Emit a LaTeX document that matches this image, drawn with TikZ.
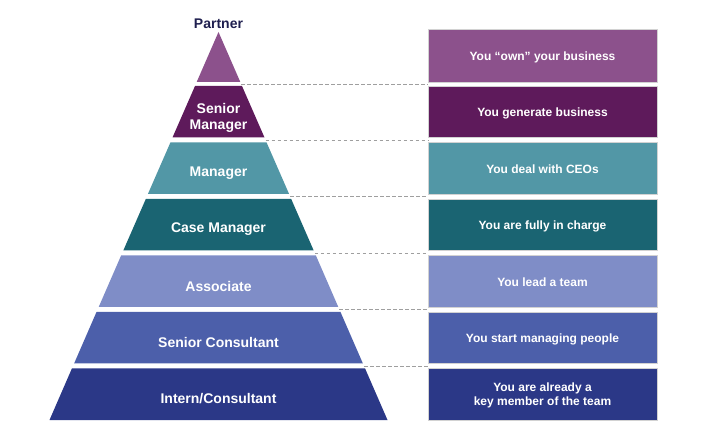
\documentclass[tikz,border=0pt]{standalone}
\usepackage{fontspec}
\setmainfont{Liberation Sans}
\usetikzlibrary{calc}

\definecolor{partnerc}{HTML}{8C518C}
\definecolor{senmgrc}{HTML}{5E1A5B}
\definecolor{mgrc}{HTML}{5297A6}
\definecolor{casemgrc}{HTML}{1A6472}
\definecolor{assocc}{HTML}{7F8DC7}
\definecolor{senconc}{HTML}{4C5FAA}
\definecolor{internc}{HTML}{2B3887}
\definecolor{titlec}{HTML}{1F1F4F}

\tikzset{
  lvl/.style={text=white, font=\bfseries\fontsize{14}{16}\selectfont, align=center, inner sep=0pt},
  rolebox/.style={draw=gray!35, line width=0.8pt, minimum width=229pt, minimum height=51.5pt,
    text=white, font=\bfseries\fontsize{12}{14}\selectfont, align=center, inner sep=0pt},
  oneline/.style={text height=13pt, text depth=2.5pt},
  link/.style={draw=gray!75, line width=0.9pt, dash pattern=on 3.5pt off 2.5pt}
}

\begin{document}
\begin{tikzpicture}[x=1pt,y=-1pt]
  \useasboundingbox (0,0) rectangle (720,435);

  % pyramid levels
  \fill[partnerc] (218.5,32) -- (240.3,82) -- (196.7,82) -- cycle;
  \fill[senmgrc] (195,86) -- (242,86) -- (264.5,137.5) -- (172.5,137.5) -- cycle;
  \fill[mgrc] (170.4,142.5) -- (266.6,142.5) -- (289.1,194) -- (147.9,194) -- cycle;
  \fill[casemgrc] (145.8,199) -- (291.2,199) -- (313.7,250.5) -- (123.3,250.5) -- cycle;
  \fill[assocc] (121.1,255.5) -- (315.9,255.5) -- (338.3,307) -- (98.7,307) -- cycle;
  \fill[senconc] (96.5,312) -- (340.5,312) -- (362.9,363.5) -- (74.1,363.5) -- cycle;
  \fill[internc] (71.9,368.5) -- (365.1,368.5) -- (387.5,420) -- (49.5,420) -- cycle;

  % level names
  \node[font=\bfseries\fontsize{14}{16}\selectfont, text=titlec] (partner) at (218.5,24) {Partner};
  \node[lvl] (senmgr) at (218.5,117.5) {Senior\\Manager};
  \node[lvl] (mgr) at (218.5,173) {Manager};
  \node[lvl] (casemgr) at (218.5,229.5) {Case Manager};
  \node[lvl] (assoc) at (218.5,286) {Associate};
  \node[lvl] (sencon) at (218.5,342.5) {Senior Consultant};
  \node[lvl] (intern) at (218.5,399) {Intern/Consultant};

  % what each level means
  \node[rolebox, oneline, fill=partnerc, minimum height=53pt] (b1) at (542.5,55.5) {You ``own'' your business};
  \node[rolebox, oneline, fill=senmgrc] (b2) at (542.5,111.75) {You generate business};
  \node[rolebox, oneline, fill=mgrc] (b3) at (542.5,168.25) {You deal with CEOs};
  \node[rolebox, oneline, fill=casemgrc] (b4) at (542.5,224.75) {You are fully in charge};
  \node[rolebox, oneline, fill=assocc] (b5) at (542.5,281.25) {You lead a team};
  \node[rolebox, oneline, fill=senconc] (b6) at (542.5,337.75) {You start managing people};
  \node[rolebox, fill=internc] (b7) at (542.5,394.25)
    {\begin{tabular}{@{}c@{}}\rule{0pt}{12.8pt}You are already a\\key member of the team\end{tabular}};

  % dashed guides
  \coordinate (g1) at (241.2,84);
  \coordinate (g2) at (265.5,140);
  \coordinate (g3) at (290.2,196.5);
  \coordinate (g4) at (314.8,253);
  \coordinate (g5) at (339.4,309.5);
  \coordinate (g6) at (364,366);
  \draw[link] (g1) -- (g1 -| b1.west);
  \draw[link] (g2) -- (g2 -| b2.west);
  \draw[link] (g3) -- (g3 -| b3.west);
  \draw[link] (g4) -- (g4 -| b4.west);
  \draw[link] (g5) -- (g5 -| b5.west);
  \draw[link] (g6) -- (g6 -| b6.west);
\end{tikzpicture}
\end{document}
